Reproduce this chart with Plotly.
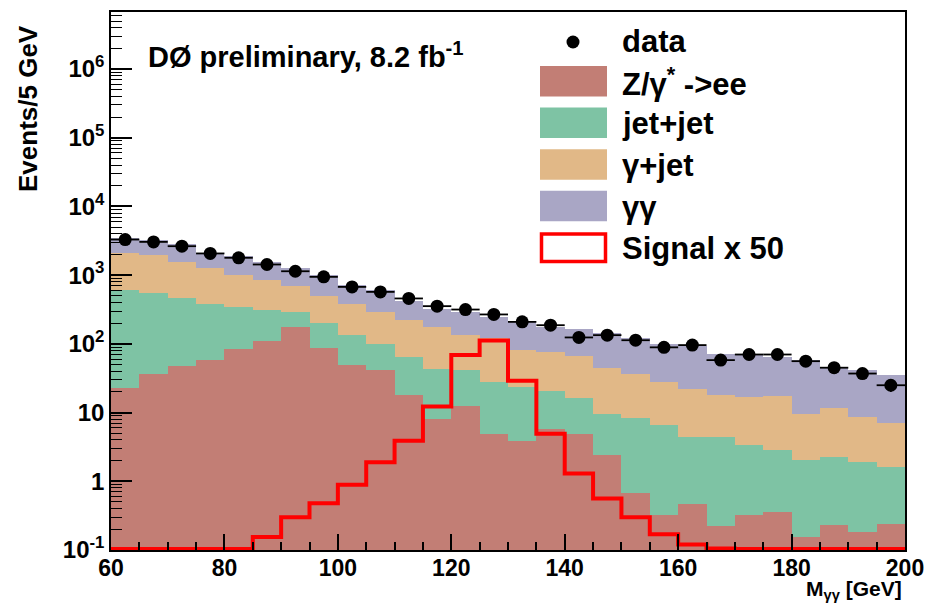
import numpy as np
import plotly.graph_objects as go

# Diphoton invariant mass, 5 GeV bins from 60 to 200 GeV
mass_bin_centers = [62.5, 67.5, 72.5, 77.5, 82.5, 87.5, 92.5, 97.5, 102.5, 107.5,
                    112.5, 117.5, 122.5, 127.5, 132.5, 137.5, 142.5, 147.5, 152.5, 157.5,
                    162.5, 167.5, 172.5, 177.5, 182.5, 187.5, 192.5, 197.5]
bin_width = 5.0

data_counts = [3300, 3050, 2640, 2070, 1790, 1430, 1140, 945, 675, 571,
               458, 354, 316, 268, 209, 187, 124, 134, 113, 89,
               96, 58, 70, 70, 56, 45, 37, 25]

# background components (stacked bottom to top)
zee_bkg = [23, 36.5, 47.7, 59, 85, 110, 176, 88, 49, 41,
           18, 8.1, 12.6, 4.9, 3.8, 5.8, 4.9, 2.4, 0.67, 0.32,
           0.46, 0.22, 0.32, 0.36, 0.155, 0.23, 0.18, 0.24]
jetjet_bkg = [582, 516, 419, 319, 261, 200, 119, 113, 84, 59,
              46, 35, 29, 22.6, 19.6, 14.6, 11.4, 7.1, 7.8, 6.2,
              4.0, 4.2, 3.0, 2.5, 1.9, 2.0, 1.7, 1.4]
gamjet_bkg = [1465, 1397, 1093, 902, 674, 535, 405, 299, 242, 192,
              157, 134, 92, 92.5, 57.6, 55.6, 49.7, 34.5, 27.5, 21.5,
              17.5, 13.4, 13.3, 14.4, 7.6, 9.6, 6.8, 5.5]
diphoton_bkg = [1400, 1280, 1240, 830, 890, 685, 580, 500, 355, 313,
                199, 143, 161, 130, 124, 102, 96, 101, 84, 73,
                71, 54, 55, 48, 49, 35, 33, 28]

# Higgs signal scaled by 50
signal_x50 = [0, 0, 0, 0, 0, 0.155, 0.30, 0.48, 0.89, 1.9,
              3.9, 12.3, 69, 112, 29, 4.9, 1.3, 0.56, 0.30, 0.17,
              0.12, 0.105, 0, 0, 0, 0, 0, 0]

y_ticks = [0.1, 1, 10, 100, 1000, 1e4, 1e5, 1e6]
y_ticktext = ["10<sup>-1</sup>", "1", "10", "10<sup>2</sup>", "10<sup>3</sup>",
              "10<sup>4</sup>", "10<sup>5</sup>", "10<sup>6</sup>"]

C_ZEE = "#C27E75"
C_JJ = "#7EC3A4"
C_GJ = "#E1B887"
C_GG = "#A9A6C5"
C_SIG = "#FF0000"
FONT = "Liberation Sans"

YLOG_MIN, YLOG_MAX = -1.0, 6.83

fig = go.Figure()

for vals, col, name in [(zee_bkg, C_ZEE, "Z/γ* ->ee"), (jetjet_bkg, C_JJ, "jet+jet"),
                        (gamjet_bkg, C_GJ, "γ+jet"), (diphoton_bkg, C_GG, "γγ")]:
    fig.add_trace(go.Bar(x=mass_bin_centers, y=vals, width=bin_width, name=name,
                         marker=dict(color=col, line=dict(width=0)), showlegend=False))

# signal histogram as a step line; empty bins sit on the frame floor
edges = np.append(np.array(mass_bin_centers) - bin_width / 2, mass_bin_centers[-1] + bin_width / 2)
sig = np.array(signal_x50, dtype=float)
sig = np.where(sig > 0, sig, 10 ** (YLOG_MIN + 0.015))
fig.add_trace(go.Scatter(x=edges, y=np.append(sig, sig[-1]), mode="lines", line_shape="hv",
                         line=dict(color=C_SIG, width=4), showlegend=False, name="Signal x 50"))

counts = np.array(data_counts, dtype=float)
fig.add_trace(go.Scatter(
    x=mass_bin_centers, y=counts, mode="markers", name="data", showlegend=False,
    marker=dict(color="black", size=13),
    error_x=dict(type="constant", value=bin_width / 2, color="black", thickness=1.8, width=0),
    error_y=dict(type="data", array=np.sqrt(counts), color="black", thickness=1.8, width=0),
))

# plot-area geometry in pixels (for placing legend/labels)
W, H = 928, 605
L, R, T, B = 111, 23, 12, 55
PW, PH = W - L - R, H - T - B


def px(x):
    return (x - L) / PW


def py(y):
    return (H - B - y) / PH


shapes = []
annotations = []
tfont = dict(family=FONT, size=31, color="black", weight="bold")

# legend: data marker
shapes.append(dict(type="circle", xref="paper", yref="paper",
                   x0=px(573 - 6.5), x1=px(573 + 6.5), y0=py(42 + 6.5), y1=py(42 - 6.5),
                   fillcolor="black", line=dict(width=0)))
annotations.append(dict(x=px(620), y=py(41), xref="paper", yref="paper", text="data",
                        showarrow=False, xanchor="left", yanchor="middle", font=tfont))

legend_rows = [("Z/γ<sup>*</sup> ->ee", C_ZEE), ("jet+jet", C_JJ), ("γ+jet", C_GJ), ("γγ", C_GG),
               ("Signal x 50", None)]
for i, (label, col) in enumerate(legend_rows):
    y0 = 66 + i * 41.6
    y1 = y0 + 30.5
    if col is None:
        shapes.append(dict(type="rect", xref="paper", yref="paper",
                           x0=px(541.5), x1=px(605.5), y0=py(y1 - 1.5), y1=py(y0 + 1.5),
                           fillcolor="white", line=dict(color=C_SIG, width=3.5)))
    else:
        shapes.append(dict(type="rect", xref="paper", yref="paper",
                           x0=px(540), x1=px(607), y0=py(y1), y1=py(y0),
                           fillcolor=col, line=dict(width=0)))
    annotations.append(dict(x=px(620), y=py((y0 + y1) / 2 + 1), xref="paper", yref="paper",
                            text=label, showarrow=False, xanchor="left", yanchor="middle",
                            font=tfont))

# experiment label
annotations.append(dict(x=px(146), y=py(55), xref="paper", yref="paper",
                        text="DØ preliminary, 8.2 fb<sup>-1</sup>", showarrow=False,
                        xanchor="left", yanchor="middle",
                        font=dict(family=FONT, size=29, color="black", weight="bold")))

# axis titles
annotations.append(dict(x=px(28), y=py(109), xref="paper", yref="paper",
                        text="Events/5 GeV", textangle=-90, showarrow=False,
                        xanchor="center", yanchor="middle",
                        font=dict(family=FONT, size=26, color="black", weight="bold")))
annotations.append(dict(x=px(904), y=py(590), xref="paper", yref="paper",
                        text="M<sub>γγ</sub> [GeV]", showarrow=False,
                        xanchor="right", yanchor="middle",
                        font=dict(family=FONT, size=21, color="black", weight="bold")))

minor_y = [m * 10.0 ** k for k in range(-1, 7) for m in range(2, 10)]

fig.update_layout(
    width=W, height=H,
    margin=dict(l=L, r=R, t=T, b=B, pad=0, autoexpand=False),
    paper_bgcolor="white", plot_bgcolor="white",
    barmode="stack", bargap=0,
    shapes=shapes, annotations=annotations,
    showlegend=False,
    xaxis=dict(range=[60, 200], tickvals=list(range(60, 201, 20)), automargin=False,
               ticks="inside", ticklen=16, tickwidth=1.5, tickcolor="black",
               minor=dict(ticks="inside", ticklen=8, tickwidth=1.5, tickcolor="black", dtick=5),
               showline=True, linecolor="black", linewidth=1.5, mirror=True,
               showgrid=False, zeroline=False, ticklabelstandoff=-3,
               tickfont=dict(family=FONT, size=23, color="black", weight="bold")),
    yaxis=dict(type="log", range=[YLOG_MIN, YLOG_MAX], tickvals=y_ticks, ticktext=y_ticktext,
               automargin=False,
               ticks="inside", ticklen=21, tickwidth=1.5, tickcolor="black",
               minor=dict(ticks="inside", ticklen=11, tickwidth=1.2, tickcolor="black",
                          tickvals=minor_y),
               showline=True, linecolor="black", linewidth=1.5, mirror=True,
               showgrid=False, zeroline=False,
               tickfont=dict(family=FONT, size=24, color="black", weight="bold")),
)

fig.write_html("out.html")
